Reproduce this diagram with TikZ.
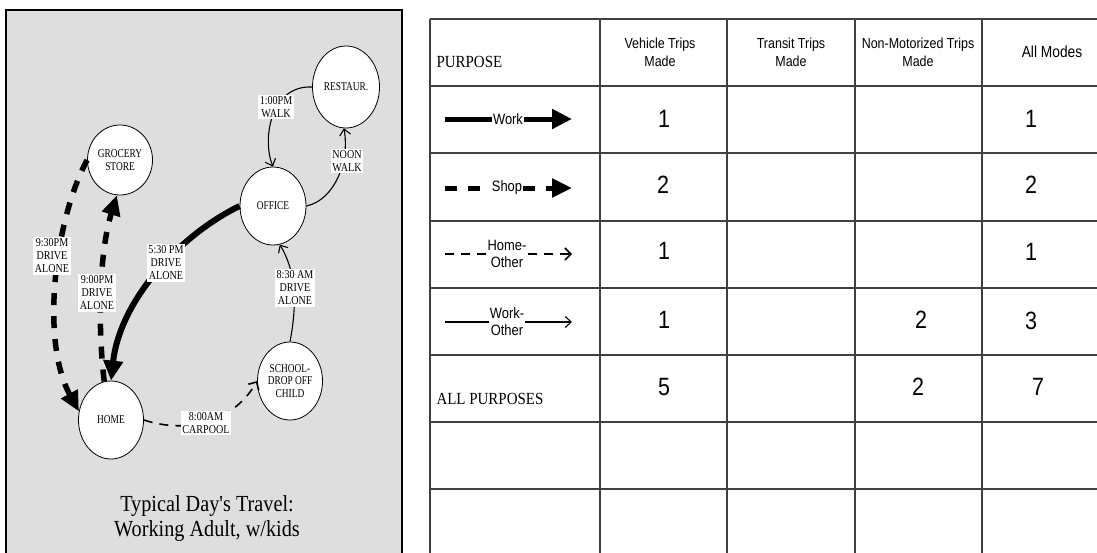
\documentclass[tikz,border=0pt]{standalone}
\usepackage{fontspec}
\setmainfont{Liberation Serif}
\newfontfamily\lblfont[FakeStretch=0.78]{Liberation Serif}
\newfontfamily\tripfont[FakeStretch=0.84]{Liberation Serif}
\newfontfamily\ttlfont[FakeStretch=0.88]{Liberation Serif}
\newfontfamily\tabfont[FakeStretch=0.86]{Liberation Sans}
\usetikzlibrary{arrows.meta,shapes.geometric}

\begin{document}
\begin{tikzpicture}[x=1pt,y=-1pt]
\tikzstyle{place} = [ellipse, draw, thick, fill=white, inner sep=0pt,
minimum width=65pt, minimum height=78pt, align=center,
font=\lblfont\fontsize{12}{12.5}\selectfont]
\tikzstyle{trip} = [fill=white, inner sep=1.8pt, align=center,
font=\tripfont\fontsize{12}{13}\selectfont]
\tikzstyle{work} = [draw, line width=6pt, -{Triangle[length=20pt,width=19pt]}]
\tikzstyle{shop} = [draw, line width=5.5pt, dash pattern=on 12pt off 11pt,
-{Triangle[length=20pt,width=18pt]}]
\tikzstyle{homeoth} = [draw, line width=1.6pt, dash pattern=on 9pt off 7pt,
-{Straight Barb[length=6pt,width=12pt]}]
\tikzstyle{workoth} = [draw, line width=1.1pt, -{Straight Barb[length=6pt,width=11pt]}]
\tikzstyle{grid} = [draw=black!75, line width=1.2pt]
\tikzstyle{hdr} = [align=center, font=\tabfont\fontsize{14.5}{18}\selectfont]
\tikzstyle{num} = [font=\tabfont\fontsize{25}{25}\selectfont]
\tikzstyle{key} = [inner sep=1pt, align=center, font=\tabfont\fontsize{15}{17}\selectfont]
\useasboundingbox (0,0) rectangle (1097,552);

% left panel
\draw[line width=1.2pt, fill=black!13] (6,10) rectangle (402,570);
\node[place, minimum width=67pt, minimum height=82pt] (rest) at (346,87) {RESTAUR.};
\node[place, minimum height=70pt] (groc) at (120,160) {GROCERY\\STORE};
\node[place, minimum width=66pt] (office) at (273,206) {OFFICE};
\node[place] (home) at (111,420) {HOME};
\node[place] (school) at (290,381) {SCHOOL-\\DROP OFF\\CHILD};

\path[work] (office.180) .. controls (180,235) and (120,300) .. (home.north);
\path[shop] (home.100) .. controls (97,320) and (100,250) .. (groc.-95);
\path[shop] (groc.180) .. controls (55,220) and (40,340) .. (home.165);
\path[homeoth] (home.east) .. controls (190,435) and (235,420) .. (school.180);
\path[workoth] (school.north) .. controls (298,300) and (295,270) .. (office.-80);
\path[workoth] (office.east) .. controls (335,200) and (350,160) .. (rest.-93);
\path[workoth] (rest.west) .. controls (270,85) and (262,140) .. (office.north);

\node[trip] (t930) at (52,256) {9:30PM\\DRIVE\\ALONE};
\node[trip] (t900) at (97,293) {9:00PM\\DRIVE\\ALONE};
\node[trip] (t530) at (166,263) {5:30 PM\\DRIVE\\ALONE};
\node[trip] (t830) at (295,288) {8:30 AM\\DRIVE\\ALONE};
\node[trip] (t800) at (206,423) {8:00AM\\CARPOOL};
\node[trip] (t100) at (276,107) {1:00PM\\WALK};
\node[trip] (tnoon) at (347,161) {NOON\\WALK};
\node[align=center, font=\ttlfont\fontsize{23}{25}\selectfont] (title) at (207,518)
{Typical Day's Travel:\\Working Adult, w/kids};

% table
\path[grid] (430,19) -- (1097,19) (430,86) -- (1097,86) (430,153) -- (1097,153)
(430,221) -- (1097,221) (430,288) -- (1097,288) (430,355) -- (1097,355)
(430,422) -- (1097,422) (430,489) -- (1097,489);
\path[grid] (430,19) -- (430,560) (600,19) -- (600,560) (727,19) -- (727,560)
(855,19) -- (855,560) (982,19) -- (982,560);

% row 1
\node[anchor=west, font=\ttlfont\fontsize{17}{17}\selectfont] (purp) at (433,62) {PURPOSE};
\node[hdr] (hveh) at (660,52) {Vehicle Trips\\Made};
\node[hdr] (htrans) at (791,52) {Transit Trips\\Made};
\node[hdr] (hnonmot) at (918,52) {Non-Motorized Trips\\Made};
\node[hdr, font=\tabfont\fontsize{16}{18}\selectfont] (hall) at (1052,52) {All Modes};
% row 2
\coordinate (ws) at (445,119);
\node[key] (wtxt) at (508,119) {Work};
\coordinate (we) at (572,119);
\path[work, line width=5pt, -] (ws) -- (wtxt);
\path[work, line width=5pt] (wtxt) -- (we);
\node[num] (v1) at (664,119) {1};
\node[num] (a1) at (1031,119) {1};
% row 3
\coordinate (ss) at (445,188);
\node[key] (stxt) at (507,188) {Shop};
\coordinate (se) at (572,188);
\path[shop, line width=5pt, -] (ss) -- (stxt);
\path[shop, line width=5pt] (stxt) -- (se);
\node[num] (v2) at (663,185) {2};
\node[num] (a2) at (1031,185) {2};
% row 4
\coordinate (hs) at (445,254);
\node[key] (htxt) at (507,254) {Home-\\Other};
\coordinate (he) at (572,254);
\path[homeoth, -] (hs) -- (htxt);
\path[homeoth] (htxt) -- (he);
\node[num] (v3) at (664,251) {1};
\node[num] (a3) at (1031,252) {1};
% row 5
\coordinate (os) at (445,322);
\node[key] (otxt) at (507,322) {Work-\\Other};
\coordinate (oe) at (572,322);
\path[workoth, -] (os) -- (otxt);
\path[workoth] (otxt) -- (oe);
\node[num] (v4) at (664,320) {1};
\node[num] (n4) at (921,320) {2};
\node[num] (a4) at (1031,321) {3};
% row 6
\node[anchor=west, font=\ttlfont\fontsize{17}{17}\selectfont] (allp) at (433,399) {ALL PURPOSES};
\node[num] (v5) at (664,387) {5};
\node[num] (n5) at (918,387) {2};
\node[num] (a5) at (1038,387) {7};
\end{tikzpicture}
\end{document}
